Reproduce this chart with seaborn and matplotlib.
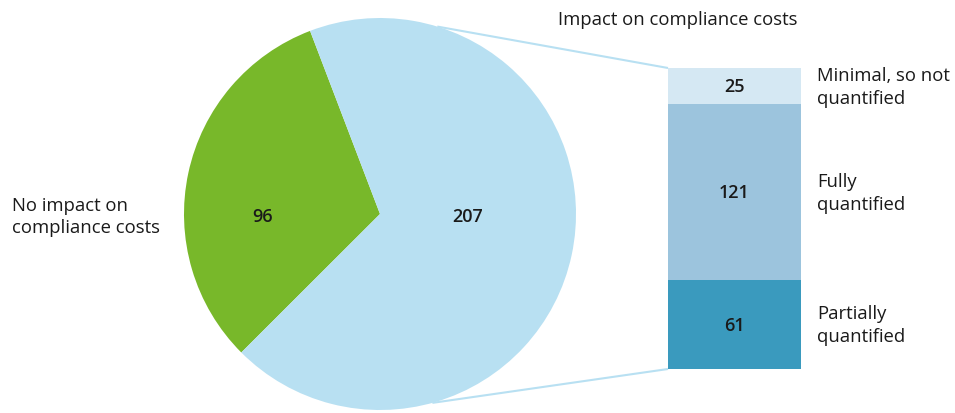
import numpy as np
import matplotlib
matplotlib.use("Agg")
import matplotlib.pyplot as plt
import seaborn as sns
import pandas as pd

# Pie: measures with / without an impact on compliance costs
pie_labels = ["No impact on\ncompliance costs", "Impact on compliance costs"]
pie_values = [96, 207]
pie_colors = ["#78B82A", "#B8E0F2"]

# Breakdown of the measures that have an impact (bar, bottom to top)
bar_labels = ["Partially\nquantified", "Fully\nquantified", "Minimal, so not\nquantified"]
bar_values = [61, 121, 25]
bar_colors = ["#3A9ABE", "#9CC4DD", "#D5E8F3"]

sns.set_theme(style="white")
plt.rcParams["font.family"] = ["Open Sans", "DejaVu Sans"]

W, H = 955, 414
fig = plt.figure(figsize=(W / 100, H / 100), dpi=100)
ax = fig.add_axes([0, 0, 1, 1])

cx, cy, r = 380, H - 215, 196
start = 110.9
ax.pie(pie_values, colors=pie_colors, startangle=start, counterclock=True,
       center=(cx, cy), radius=r, frame=True,
       wedgeprops=dict(linewidth=0))
ax.set_xlim(0, W)
ax.set_ylim(0, H)
ax.set_aspect("equal")
ax.axis("off")

txt = dict(fontsize=13.3, color="#1a1a1a")
num = dict(fontsize=13, color="#1a1a1a", fontweight="semibold")
ax.text(cx - 117, cy - 2, str(pie_values[0]), ha="center", va="center", **num)
ax.text(cx + 88, cy - 2, str(pie_values[1]), ha="center", va="center", **num)
ax.text(12, cy - 2, pie_labels[0], ha="left", va="center",
        linespacing=1.35, **txt)
ax.text(678, H - 20, pie_labels[1], ha="center", va="center", **txt)

# Stacked bar in its own axes
bx0, bx1, by0, by1 = 668, 801, 69, 370
bax = fig.add_axes([bx0 / W, (H - by1) / H, (bx1 - bx0) / W, (by1 - by0) / H])
cum = np.cumsum(bar_values)
df = pd.DataFrame({"cat": ["impact"] * len(bar_values), "top": cum})
# draw tallest first so the shorter cumulative bars sit on top
for i in reversed(range(len(bar_values))):
    sns.barplot(data=df.iloc[[i]], x="cat", y="top", color=bar_colors[i],
                width=1.0, ax=bax, saturation=1, linewidth=0)
bax.set_xlim(-0.5, 0.5)
bax.set_ylim(0, cum[-1])
bax.axis("off")

# Values inside the segments, category names to the right of the bar
bottoms = cum - np.array(bar_values)
label_tf = matplotlib.transforms.blended_transform_factory(ax.transData, bax.transData)
for v, b, lab in zip(bar_values, bottoms, bar_labels):
    mid = b + v / 2
    bax.text(0, mid, str(v), ha="center", va="center", **num)
    ax.text(817, mid, lab, ha="left", va="center", transform=label_tf,
            linespacing=1.35, **txt)

# Connector lines from the pie edge to the bar corners
for ang, (px, py) in [(73.0, (bx0, H - by0)), (-74.5, (bx0, H - by1))]:
    a = np.deg2rad(ang)
    ax.plot([cx + r * np.cos(a), px], [cy + r * np.sin(a), py],
            color="#B8E0F2", lw=1.5, solid_capstyle="butt")

fig.savefig("out.png", dpi=100)
